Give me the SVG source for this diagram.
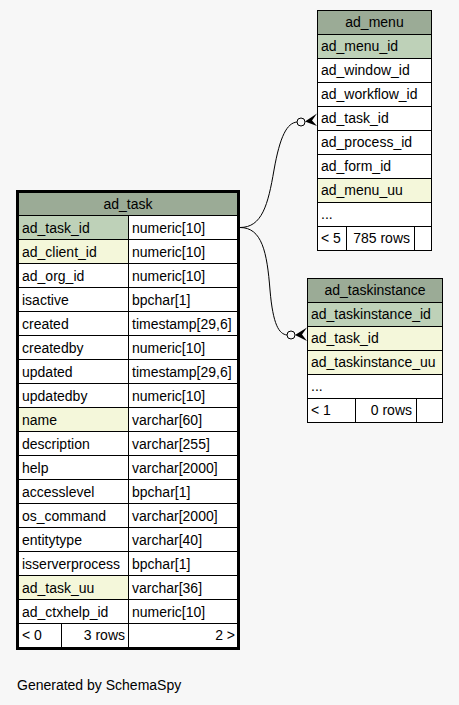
<svg xmlns="http://www.w3.org/2000/svg" width="459" height="705" viewBox="0 0 459 705">
<style>
text{font-family:"Liberation Sans",Arial,sans-serif;font-size:14px;fill:#000}
.c{stroke:#000;stroke-width:1}
.h{fill:#9bab96}
.pk{fill:#bed1b8}
.fk{fill:#f4f7da}
.w{fill:#fff}
.m{text-anchor:middle}
.r{text-anchor:end}
.edge{fill:none;stroke:#000;stroke-width:1}
</style>
<rect x="0" y="0" width="459" height="705" fill="#f7f7f7"/>
<g id="connectors">
<path class="edge" d="M240,227.5 C262,227.5 268,205 274,170 C280,136 287,123 297,122"/>
<circle cx="301" cy="122" r="4" fill="none" stroke="#000"/>
<polygon points="305,121.5 317,113.5 312,120.5 317,126" fill="#000"/>
<path class="edge" d="M240,227.5 C262,227.5 267,252 270,290 C273,325 279,334 287,335"/>
<circle cx="291" cy="335" r="4" fill="none" stroke="#000"/>
<polygon points="295,335 307,327.5 302,334.5 307,341" fill="#000"/>
</g>
<g id="ad_task">
<rect class="c h" x="18.5" y="192.5" width="219" height="23"/>
<text class="m" x="128" y="208.5">ad_task</text>
<rect class="c pk" x="18.5" y="215.5" width="110" height="24"/><rect class="c w" x="128.5" y="215.5" width="109" height="24"/>
<text x="22" y="232.5">ad_task_id</text><text x="132" y="232.5">numeric[10]</text>
<rect class="c fk" x="18.5" y="239.5" width="110" height="24"/><rect class="c w" x="128.5" y="239.5" width="109" height="24"/>
<text x="22" y="256.5">ad_client_id</text><text x="132" y="256.5">numeric[10]</text>
<rect class="c w" x="18.5" y="263.5" width="110" height="24"/><rect class="c w" x="128.5" y="263.5" width="109" height="24"/>
<text x="22" y="280.5">ad_org_id</text><text x="132" y="280.5">numeric[10]</text>
<rect class="c w" x="18.5" y="287.5" width="110" height="24"/><rect class="c w" x="128.5" y="287.5" width="109" height="24"/>
<text x="22" y="304.5">isactive</text><text x="132" y="304.5">bpchar[1]</text>
<rect class="c w" x="18.5" y="311.5" width="110" height="24"/><rect class="c w" x="128.5" y="311.5" width="109" height="24"/>
<text x="22" y="328.5">created</text><text x="132" y="328.5">timestamp[29,6]</text>
<rect class="c w" x="18.5" y="335.5" width="110" height="24"/><rect class="c w" x="128.5" y="335.5" width="109" height="24"/>
<text x="22" y="352.5">createdby</text><text x="132" y="352.5">numeric[10]</text>
<rect class="c w" x="18.5" y="359.5" width="110" height="24"/><rect class="c w" x="128.5" y="359.5" width="109" height="24"/>
<text x="22" y="376.5">updated</text><text x="132" y="376.5">timestamp[29,6]</text>
<rect class="c w" x="18.5" y="383.5" width="110" height="24"/><rect class="c w" x="128.5" y="383.5" width="109" height="24"/>
<text x="22" y="400.5">updatedby</text><text x="132" y="400.5">numeric[10]</text>
<rect class="c fk" x="18.5" y="407.5" width="110" height="24"/><rect class="c w" x="128.5" y="407.5" width="109" height="24"/>
<text x="22" y="424.5">name</text><text x="132" y="424.5">varchar[60]</text>
<rect class="c w" x="18.5" y="431.5" width="110" height="24"/><rect class="c w" x="128.5" y="431.5" width="109" height="24"/>
<text x="22" y="448.5">description</text><text x="132" y="448.5">varchar[255]</text>
<rect class="c w" x="18.5" y="455.5" width="110" height="24"/><rect class="c w" x="128.5" y="455.5" width="109" height="24"/>
<text x="22" y="472.5">help</text><text x="132" y="472.5">varchar[2000]</text>
<rect class="c w" x="18.5" y="479.5" width="110" height="24"/><rect class="c w" x="128.5" y="479.5" width="109" height="24"/>
<text x="22" y="496.5">accesslevel</text><text x="132" y="496.5">bpchar[1]</text>
<rect class="c w" x="18.5" y="503.5" width="110" height="24"/><rect class="c w" x="128.5" y="503.5" width="109" height="24"/>
<text x="22" y="520.5">os_command</text><text x="132" y="520.5">varchar[2000]</text>
<rect class="c w" x="18.5" y="527.5" width="110" height="24"/><rect class="c w" x="128.5" y="527.5" width="109" height="24"/>
<text x="22" y="544.5">entitytype</text><text x="132" y="544.5">varchar[40]</text>
<rect class="c w" x="18.5" y="551.5" width="110" height="24"/><rect class="c w" x="128.5" y="551.5" width="109" height="24"/>
<text x="22" y="568.5">isserverprocess</text><text x="132" y="568.5">bpchar[1]</text>
<rect class="c fk" x="18.5" y="575.5" width="110" height="24"/><rect class="c w" x="128.5" y="575.5" width="109" height="24"/>
<text x="22" y="592.5">ad_task_uu</text><text x="132" y="592.5">varchar[36]</text>
<rect class="c w" x="18.5" y="599.5" width="110" height="24"/><rect class="c w" x="128.5" y="599.5" width="109" height="24"/>
<text x="22" y="616.5">ad_ctxhelp_id</text><text x="132" y="616.5">numeric[10]</text>
<rect class="c w" x="18.5" y="623.5" width="43" height="24"/><rect class="c w" x="61.5" y="623.5" width="67" height="24"/><rect class="c w" x="128.5" y="623.5" width="109" height="24"/>
<text x="22" y="640">&lt; 0</text><text class="r" x="125" y="640">3 rows</text><text class="r" x="235" y="640">2 &gt;</text>
<rect x="17" y="191" width="222" height="458" fill="none" stroke="#000" stroke-width="2"/>
</g>
<g id="ad_menu">
<rect class="c h" x="317.5" y="10.5" width="114" height="24"/>
<text class="m" x="374.5" y="27">ad_menu</text>
<rect class="c pk" x="317.5" y="34.5" width="114" height="24"/><text x="321" y="51">ad_menu_id</text>
<rect class="c w" x="317.5" y="58.5" width="114" height="24"/><text x="321" y="75">ad_window_id</text>
<rect class="c w" x="317.5" y="82.5" width="114" height="24"/><text x="321" y="99">ad_workflow_id</text>
<rect class="c w" x="317.5" y="106.5" width="114" height="24"/><text x="321" y="123">ad_task_id</text>
<rect class="c w" x="317.5" y="130.5" width="114" height="24"/><text x="321" y="147">ad_process_id</text>
<rect class="c w" x="317.5" y="154.5" width="114" height="24"/><text x="321" y="171">ad_form_id</text>
<rect class="c fk" x="317.5" y="178.5" width="114" height="24"/><text x="321" y="195">ad_menu_uu</text>
<rect class="c w" x="317.5" y="202.5" width="114" height="24"/><text x="321" y="219">...</text>
<rect class="c w" x="317.5" y="226.5" width="29" height="24"/><rect class="c w" x="346.5" y="226.5" width="68" height="24"/><rect class="c w" x="414.5" y="226.5" width="17" height="24"/>
<text x="321" y="243">&lt; 5</text><text class="r" x="410" y="243">785 rows</text>
</g>
<g id="ad_taskinstance">
<rect class="c h" x="307.5" y="278.5" width="135" height="24"/>
<text class="m" x="375" y="295">ad_taskinstance</text>
<rect class="c pk" x="307.5" y="302.5" width="135" height="24"/><text x="311" y="319">ad_taskinstance_id</text>
<rect class="c fk" x="307.5" y="326.5" width="135" height="24"/><text x="311" y="343">ad_task_id</text>
<rect class="c fk" x="307.5" y="350.5" width="135" height="24"/><text x="311" y="367">ad_taskinstance_uu</text>
<rect class="c w" x="307.5" y="374.5" width="135" height="24"/><text x="311" y="391">...</text>
<rect class="c w" x="307.5" y="398.5" width="48" height="24"/><rect class="c w" x="355.5" y="398.5" width="61" height="24"/><rect class="c w" x="416.5" y="398.5" width="26" height="24"/>
<text x="311" y="415">&lt; 1</text><text class="r" x="412" y="415">0 rows</text>
</g>
<text x="17" y="690">Generated by SchemaSpy</text>
</svg>
